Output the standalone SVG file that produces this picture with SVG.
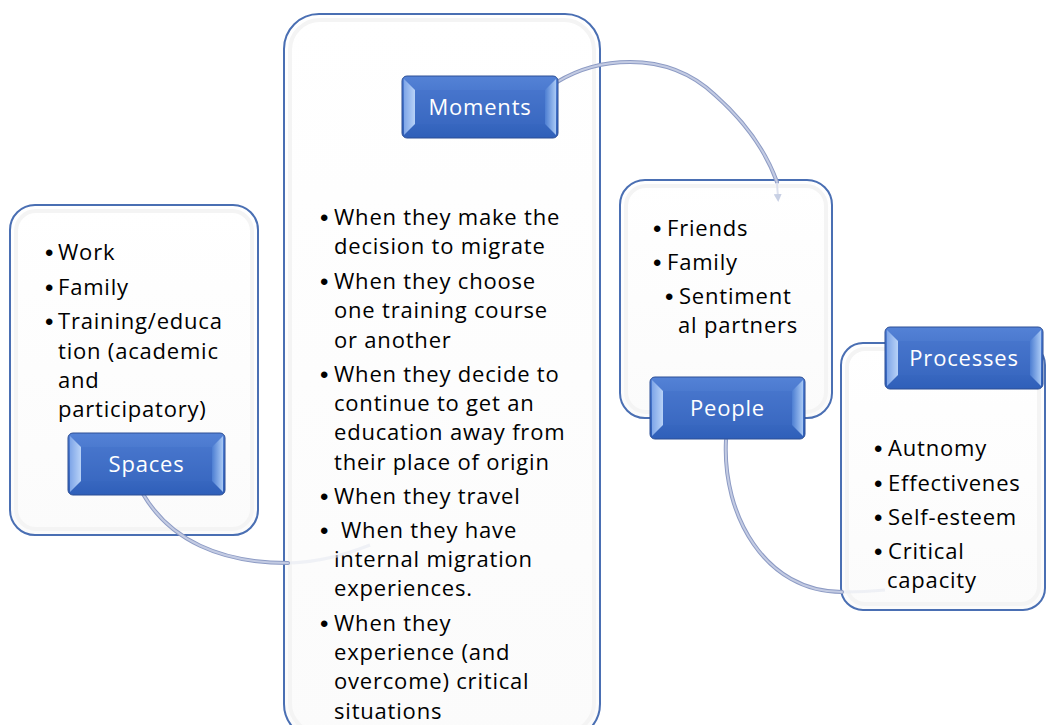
<svg xmlns="http://www.w3.org/2000/svg" width="1047" height="725" viewBox="0 0 1047 725">
<defs>
<linearGradient id="btn" x1="0" y1="0" x2="0" y2="1">
<stop offset="0" stop-color="#5482d6"/>
<stop offset="1" stop-color="#2f5fb9"/>
</linearGradient>
<linearGradient id="bevL" x1="0" y1="0" x2="1" y2="0">
<stop offset="0" stop-color="#7fa6e8"/>
<stop offset="1" stop-color="#b8d2f7"/>
</linearGradient>
<linearGradient id="bevR" x1="0" y1="0" x2="1" y2="0">
<stop offset="0" stop-color="#4d7ed2"/>
<stop offset="1" stop-color="#a9c9f5"/>
</linearGradient>
<linearGradient id="boxg" x1="0" y1="0" x2="0" y2="1">
<stop offset="0" stop-color="#ffffff"/>
<stop offset="1" stop-color="#fbfbfb"/>
</linearGradient>
<marker id="arr" viewBox="0 0 10 10" refX="5" refY="5" markerWidth="4" markerHeight="4" orient="auto">
<path d="M0,0 L10,5 L0,10 z" fill="#c8d0e4"/>
</marker>
</defs>
<style>
.box{fill:url(#boxg);stroke:#4a6fb3;stroke-width:2}
.glow{fill:none;stroke:#f4f4f4;stroke-width:4}
.btn{fill:url(#btn);stroke:#2d4f95;stroke-width:1}
.face{fill:#3f6ec6}
.bt{font-family:"Open Sans","Liberation Sans",sans-serif;font-size:22px;letter-spacing:0.8px;fill:#ffffff;text-anchor:middle}
.t{font-family:"Open Sans","Liberation Sans",sans-serif;font-size:22px;letter-spacing:0.8px;fill:#000000}
.b{font-family:"Liberation Sans",sans-serif;font-size:24px;fill:#000000}
.con{fill:none;stroke:#8d9bc4;stroke-width:4;stroke-linecap:round}
.coni{fill:none;stroke:#c3cbe3;stroke-width:2;stroke-linecap:round}
.fade{fill:none;stroke:#e6e9f2;stroke-width:3;opacity:0.6}
</style>
<rect width="1047" height="725" fill="#ffffff"/>

<g id="spaces-box">
<rect class="box" x="10" y="205" width="248" height="330" rx="25"/>
<rect class="glow" x="16" y="211" width="236" height="318" rx="20"/>
<text class="b"><tspan x="45" y="261">•</tspan><tspan x="45" y="296">•</tspan><tspan x="45" y="330">•</tspan></text>
<text class="t"><tspan x="58" y="260">Work</tspan><tspan x="58" y="295">Family</tspan><tspan x="58" y="329">Training/educa</tspan><tspan x="58" y="359">tion (academic</tspan><tspan x="58" y="388">and</tspan><tspan x="58" y="417">participatory)</tspan></text>
</g>

<g id="moments-box">
<rect class="box" x="284" y="14" width="316" height="725" rx="35"/>
<rect class="glow" x="290" y="20" width="304" height="713" rx="30"/>
<text class="b"><tspan x="320" y="226">•</tspan><tspan x="320" y="290">•</tspan><tspan x="320" y="383">•</tspan><tspan x="320" y="505">•</tspan><tspan x="320" y="539">•</tspan><tspan x="320" y="632">•</tspan></text>
<text class="t"><tspan x="334" y="225">When they make the</tspan><tspan x="334" y="254">decision to migrate</tspan><tspan x="334" y="289">When they choose</tspan><tspan x="334" y="318">one training course</tspan><tspan x="334" y="348">or another</tspan><tspan x="334" y="382">When they decide to</tspan><tspan x="334" y="411">continue to get an</tspan><tspan x="334" y="440">education away from</tspan><tspan x="334" y="470">their place of origin</tspan><tspan x="334" y="504">When they travel</tspan><tspan x="341" y="538">When they have</tspan><tspan x="334" y="567">internal migration</tspan><tspan x="334" y="596">experiences.</tspan><tspan x="334" y="631">When they</tspan><tspan x="334" y="660">experience (and</tspan><tspan x="334" y="689">overcome) critical</tspan><tspan x="334" y="719">situations</tspan></text>
</g>

<g id="people-box">
<rect class="box" x="620" y="180" width="212" height="238" rx="25"/>
<rect class="glow" x="626" y="186" width="200" height="226" rx="20"/>
<text class="b"><tspan x="653" y="237">•</tspan><tspan x="653" y="271">•</tspan><tspan x="665" y="305">•</tspan></text>
<text class="t"><tspan x="667" y="236">Friends</tspan><tspan x="667" y="270">Family</tspan><tspan x="679" y="304">Sentiment</tspan><tspan x="678" y="333">al partners</tspan></text>
</g>

<g id="processes-box">
<rect class="box" x="841" y="343" width="204" height="267" rx="22"/>
<rect class="glow" x="847" y="349" width="192" height="255" rx="18"/>
<text class="b"><tspan x="874" y="457">•</tspan><tspan x="874" y="492">•</tspan><tspan x="874" y="526">•</tspan><tspan x="874" y="560">•</tspan></text>
<text class="t"><tspan x="888" y="456">Autnomy</tspan><tspan x="888" y="491">Effectivenes</tspan><tspan x="888" y="525">Self-esteem</tspan><tspan x="888" y="559">Critical</tspan><tspan x="887" y="588">capacity</tspan></text>
</g>

<g id="connectors">
<path class="con" d="M143,494 C170,540 220,563 288,563"/>
<path class="coni" d="M143,494 C170,540 220,563 288,563"/>
<path class="fade" d="M290,563 C320,562 345,555 370,545"/>
<path class="con" d="M557,82 Q590,62 630,62 Q680,62 715,95 Q760,135 777,182"/>
<path class="coni" d="M557,82 Q590,62 630,62 Q680,62 715,95 Q760,135 777,182"/>
<path d="M777,183 L778,198" fill="none" stroke="#dde1ee" stroke-width="2" marker-end="url(#arr)"/>
<path class="con" d="M726,440 C722,515 765,592 842,592"/>
<path class="coni" d="M726,440 C722,515 765,592 842,592"/>
<path class="fade" d="M844,592 C860,592 875,591 885,590"/>
</g>

<g id="spaces">
<rect class="btn" x="68" y="433" width="157" height="62" rx="5"/>
<polygon points="70,436 81,447 81,481 70,492" fill="url(#bevL)"/>
<polygon points="223,436 212,447 212,481 223,492" fill="url(#bevR)"/>
<rect class="face" x="81" y="447" width="131" height="34" opacity="0.35"/>
<text class="bt" x="146.5" y="472">Spaces</text>
</g>

<g id="moments">
<rect class="btn" x="402" y="76" width="156" height="62" rx="5"/>
<polygon points="404,79 415,90 415,124 404,135" fill="url(#bevL)"/>
<polygon points="556,79 545,90 545,124 556,135" fill="url(#bevR)"/>
<rect class="face" x="415" y="90" width="130" height="34" opacity="0.35"/>
<text class="bt" x="480" y="115">Moments</text>
</g>

<g id="people">
<rect class="btn" x="650" y="377" width="155" height="62" rx="5"/>
<polygon points="652,380 663,391 663,425 652,436" fill="url(#bevL)"/>
<polygon points="803,380 792,391 792,425 803,436" fill="url(#bevR)"/>
<rect class="face" x="663" y="391" width="129" height="34" opacity="0.35"/>
<text class="bt" x="727.5" y="416">People</text>
</g>

<g id="processes">
<rect class="btn" x="885" y="327" width="158" height="62" rx="5"/>
<polygon points="887,330 898,341 898,375 887,386" fill="url(#bevL)"/>
<polygon points="1041,330 1030,341 1030,375 1041,386" fill="url(#bevR)"/>
<rect class="face" x="898" y="341" width="132" height="34" opacity="0.35"/>
<text class="bt" x="964" y="366">Processes</text>
</g>
</svg>
